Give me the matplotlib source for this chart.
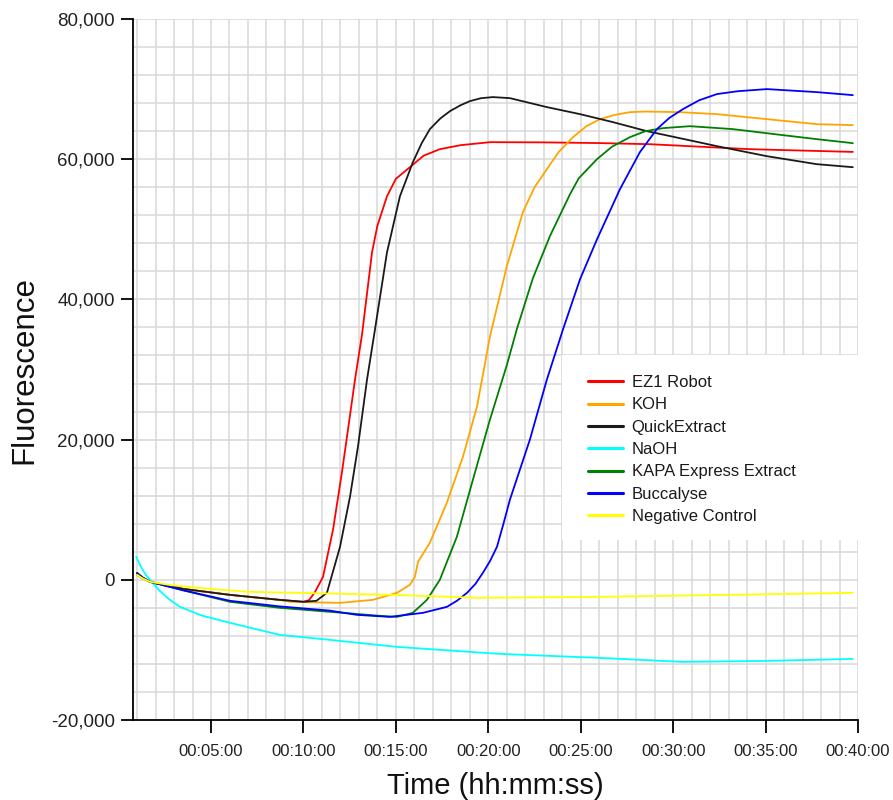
import matplotlib
matplotlib.use("Agg")
import matplotlib.pyplot as plt
from matplotlib.ticker import MultipleLocator, FuncFormatter, FixedLocator
from matplotlib.patches import Rectangle

plt.rcParams['font.family'] = ['Liberation Sans', 'DejaVu Sans']

# time in minutes, fluorescence values
ez1_t = [1.0, 1.3, 1.7, 3.5, 6.0, 8.7, 10.0, 10.3, 10.6, 11.06, 11.6, 12.08, 12.41, 12.79, 13.17, 13.71, 14.0, 14.52, 15.0, 15.76, 16.5, 17.38, 18.5, 20.09, 23.0, 26.0, 28.74, 34.15, 39.72]
ez1_v = [700, 200, -290, -1300, -2140, -2860, -3140, -2900, -1860, 430, 7140, 15290, 21430, 28570, 35000, 46710, 50500, 54710, 57200, 58860, 60500, 61430, 62000, 62430, 62400, 62300, 62140, 61430, 61040]

koh_t = [1.0, 1.3, 1.7, 3.5, 6.0, 8.7, 9.3, 11.98, 13.76, 15.06, 15.76, 16.03, 16.2, 16.84, 17.76, 18.63, 19.39, 20.09, 21.0, 21.87, 22.5, 23.17, 23.8, 24.58, 25.3, 26.04, 26.8, 27.66, 28.5, 30.36, 32.37, 35.07, 37.77, 39.72]
koh_v = [700, 200, -290, -1300, -2140, -2860, -3140, -3290, -2860, -1860, -710, 430, 2570, 5290, 11000, 17570, 24710, 34710, 44710, 52430, 56000, 58570, 61000, 63140, 64700, 65710, 66300, 66710, 66800, 66710, 66430, 65710, 65000, 64860]

qe_t = [1.0, 1.3, 1.7, 3.5, 6.0, 8.7, 10.0, 10.7, 11.27, 11.98, 12.52, 12.95, 13.44, 13.87, 14.52, 15.22, 15.92, 16.4, 16.84, 17.4, 17.93, 18.5, 19.01, 19.6, 20.25, 21.17, 23.17, 24.96, 26.74, 28.58, 30.36, 32.37, 35.07, 37.77, 39.72]
qe_v = [1000, 350, -290, -1300, -2140, -2860, -3140, -3000, -1860, 4710, 11860, 19000, 28570, 35710, 46710, 54710, 59570, 62300, 64290, 65800, 66860, 67700, 68290, 68700, 68860, 68710, 67430, 66430, 65290, 64000, 63000, 61860, 60430, 59290, 58860]

naoh_t = [0.95, 1.2, 1.45, 1.7, 2.2, 2.7, 3.32, 4.5, 6.03, 8.73, 11.44, 15.06, 20.63, 26.04, 30.53, 35.07, 39.72]
naoh_v = [3290, 1900, 800, 0, -1500, -2700, -3860, -5100, -6140, -7860, -8570, -9570, -10570, -11140, -11710, -11570, -11290]

kapa_t = [1.0, 1.3, 1.7, 3.5, 6.03, 8.73, 11.44, 14.14, 15.06, 15.92, 16.68, 17.38, 18.3, 19.17, 20.09, 21.0, 21.55, 22.41, 23.33, 24.42, 24.9, 25.88, 26.7, 27.66, 28.5, 29.45, 30.91, 33.23, 35.94, 37.77, 39.72]
kapa_v = [900, 300, -290, -1500, -3140, -4000, -4570, -5140, -5290, -4710, -2860, 0, 6140, 14290, 22860, 30600, 35800, 43000, 49000, 55000, 57300, 60000, 61800, 63140, 64000, 64430, 64710, 64290, 63430, 62860, 62290]

bucc_t = [1.0, 1.3, 1.7, 3.5, 6.03, 8.73, 11.44, 12.9, 14.68, 16.47, 17.76, 18.3, 18.85, 19.3, 19.71, 20.1, 20.47, 20.8, 21.17, 22.25, 23.17, 24.04, 24.96, 25.88, 27.12, 28.2, 29.12, 29.8, 30.53, 31.4, 32.37, 33.5, 35.07, 37.77, 39.72]
bucc_v = [900, 300, -290, -1500, -3000, -3800, -4400, -5000, -5290, -4710, -3860, -3000, -1860, -600, 1000, 2700, 4710, 7800, 11430, 20000, 28570, 35710, 42860, 48570, 55710, 61000, 64290, 65900, 67140, 68400, 69290, 69700, 70000, 69570, 69140]

neg_t = [1.0, 1.3, 1.7, 2.8, 4.24, 6.95, 9.65, 14.68, 19.55, 26.04, 33.23, 39.72]
neg_v = [710, 200, -290, -750, -1140, -1710, -1860, -2140, -2570, -2430, -2140, -1860]

series = [
    ("EZ1 Robot", ez1_t, ez1_v, "#ff0000"),
    ("KOH", koh_t, koh_v, "#ffa500"),
    ("QuickExtract", qe_t, qe_v, "#1a1a1a"),
    ("NaOH", naoh_t, naoh_v, "#00ffff"),
    ("KAPA Express Extract", kapa_t, kapa_v, "#008000"),
    ("Buccalyse", bucc_t, bucc_v, "#0000ff"),
    ("Negative Control", neg_t, neg_v, "#ffff00"),
]

x_ticks = [5, 10, 15, 20, 25, 30, 35, 40]
y_ticks = [-20000, 0, 20000, 40000, 60000, 80000]

fig = plt.figure(figsize=(8.93, 8.0), dpi=100)
ax = fig.add_axes([133/893, 80/800, 725/893, 701/800])

for name, t, v, c in series:
    ax.plot(t, v, color=c, lw=1.3, label=name, zorder=3,
            solid_joinstyle='round', solid_capstyle='round')

ax.set_xlim(0.78, 40)
ax.set_ylim(-20000, 80000)

ax.xaxis.set_major_locator(FixedLocator(x_ticks))
ax.yaxis.set_major_locator(FixedLocator(y_ticks))
ax.xaxis.set_minor_locator(MultipleLocator(1))
ax.yaxis.set_minor_locator(MultipleLocator(4000))
ax.xaxis.set_major_formatter(FuncFormatter(lambda x, p: "00:%02d:00" % int(round(x))))
ax.yaxis.set_major_formatter(FuncFormatter(lambda y, p: "{:,}".format(int(y))))

ax.grid(True, which='both', color='#d9d9d9', lw=1.1, zorder=0)
ax.set_axisbelow(True)
ax.tick_params(which='minor', length=0)
ax.tick_params(which='major', length=9, width=1.3, color='black',
               labelcolor='#222222', direction='out')
ax.tick_params(axis='x', which='major', pad=8, labelsize=12)
ax.tick_params(axis='y', which='major', pad=4, labelsize=13.5)

for s in ['top', 'right']:
    ax.spines[s].set_visible(False)
for s in ['left', 'bottom']:
    ax.spines[s].set_linewidth(1.3)
    ax.spines[s].set_color('black')

ax.set_xlabel("Time (hh:mm:ss)", fontsize=21, color='#111111', labelpad=10)
ax.set_ylabel("Fluorescence", fontsize=22.5, color='#111111', labelpad=8)

ax.add_patch(Rectangle((0.592, 0.257), 0.408, 0.264, transform=ax.transAxes,
                       facecolor='white', edgecolor='none', zorder=2))
leg = ax.legend(loc='upper left', bbox_to_anchor=(0.628, 0.492), frameon=False,
                fontsize=12, handlelength=2.1, handletextpad=0.5,
                labelspacing=0.44, borderpad=0, borderaxespad=0)
for h in leg.get_lines():
    h.set_linewidth(2.2)
for txt in leg.get_texts():
    txt.set_color('#1a1a1a')

fig.savefig("out.png", dpi=100)
